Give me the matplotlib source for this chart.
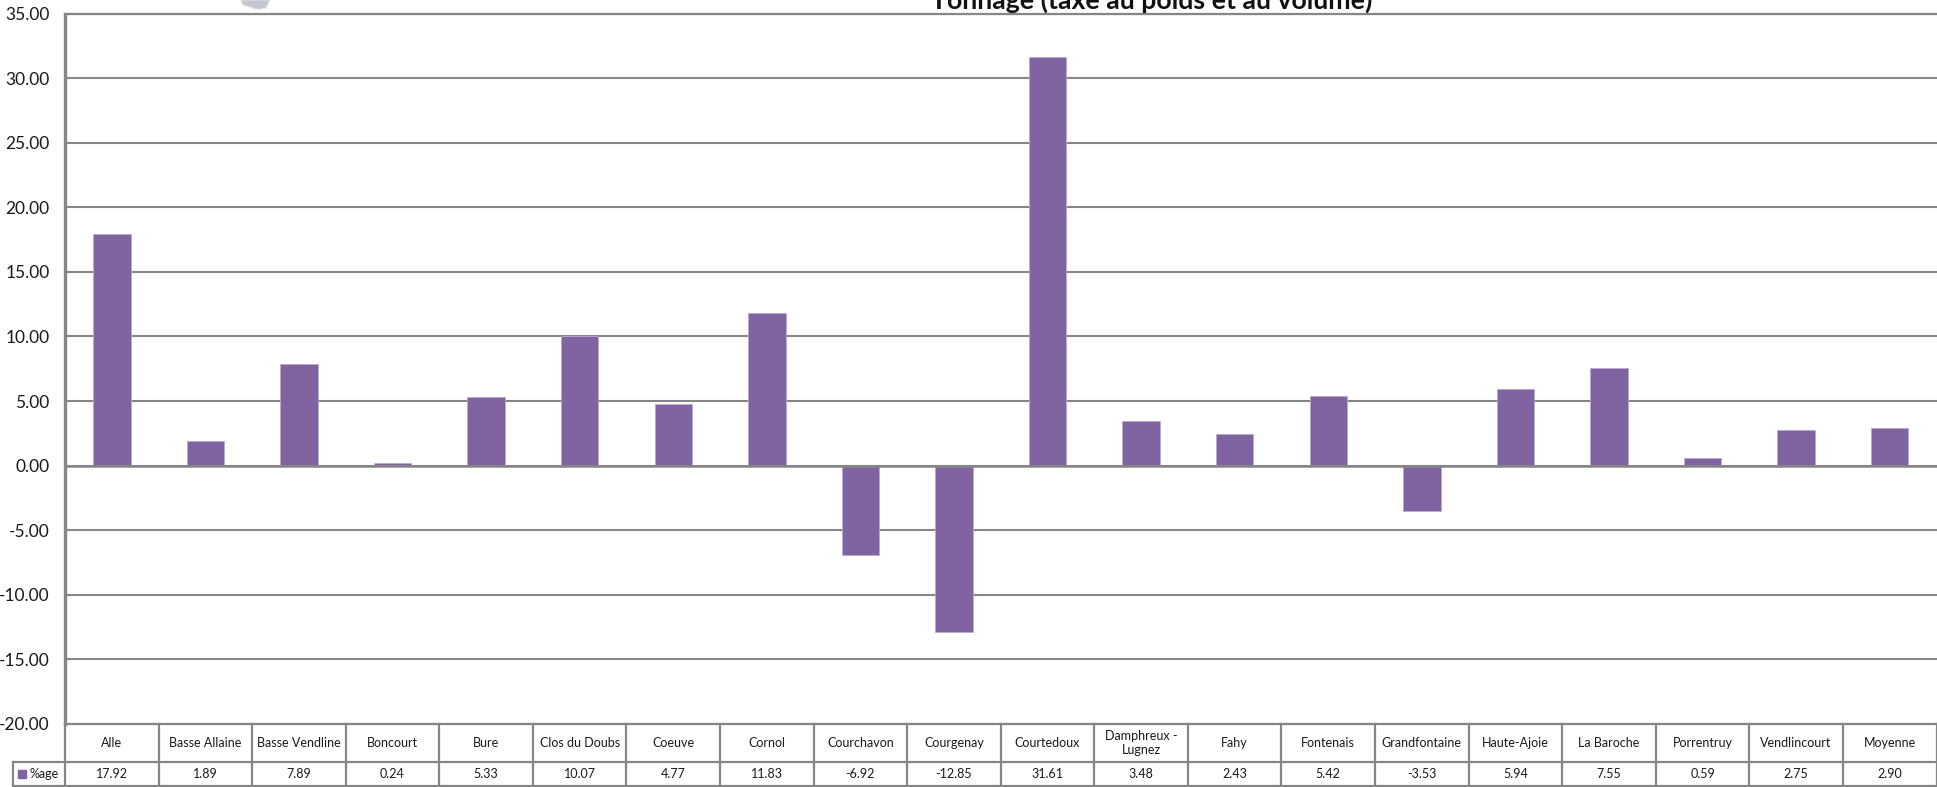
#!/usr/bin/env python3
import matplotlib
matplotlib.use("Agg")
import matplotlib.pyplot as plt
from matplotlib.patches import Polygon, Rectangle

communes = ["Alle", "Basse Allaine", "Basse Vendline", "Boncourt", "Bure", "Clos du Doubs",
            "Coeuve", "Cornol", "Courchavon", "Courgenay", "Courtedoux", "Damphreux -\nLugnez",
            "Fahy", "Fontenais", "Grandfontaine", "Haute-Ajoie", "La Baroche", "Porrentruy",
            "Vendlincourt", "Moyenne"]
pourcentages = [17.92, 1.89, 7.89, 0.24, 5.33, 10.07, 4.77, 11.83, -6.92, -12.85, 31.61, 3.48,
                2.43, 5.42, -3.53, 5.94, 7.55, 0.59, 2.75, 2.90]
serie = "%age"
titre = "Tonnage (taxe au poids et au volume)"

W, H = 1937, 787
GREY = "#868686"
PURPLE = "#8064A2"
TEXT = "#1a1a1a"

plt.rcParams["font.family"] = ["Lato", "DejaVu Sans"]


def fx(px):
    return px / W


def fy(py):
    return 1 - py / H


fig = plt.figure(figsize=(W / 100, H / 100), dpi=100, facecolor="white")
ax = fig.add_axes([fx(65), fy(724), fx(1936.5) - fx(65), fy(13.5) - fy(724)])

x = [i + 0.5 for i in range(len(communes))]
ax.bar(x, pourcentages, width=0.4, color=PURPLE, edgecolor="#b9a9cf", linewidth=0.6, zorder=3)

ax.set_xlim(0, len(communes))
ax.set_ylim(-20, 35)
ax.set_yticks(range(-20, 40, 5))
ax.set_yticklabels([f"{v:.2f}" for v in range(-20, 40, 5)], fontsize=12.5, color=TEXT)
ax.tick_params(axis="y", length=0, pad=11)
ax.tick_params(axis="x", length=0, labelbottom=False)
ax.grid(True, axis="y", color=GREY, linewidth=1.5, zorder=1)
ax.set_axisbelow(True)

ax.spines["right"].set_visible(False)
for side, lw in (("top", 1.6), ("left", 2.4), ("bottom", 1.6)):
    ax.spines[side].set_color(GREY)
    ax.spines[side].set_linewidth(lw)

# ligne du zero
ax.axhline(0, color=GREY, linewidth=1.8, zorder=4)

# tableau de donnees sous le graphique
trans = ax.get_xaxis_transform()


def to_axes_y(py):
    return ax.transAxes.inverted().transform((0, H - py))[1]


y_head = to_axes_y(743)
y_val = to_axes_y(774)
y_mid = to_axes_y(762)
y_bot = to_axes_y(786)
x_leg = -52 / 93.6

for i in range(len(communes) + 1):
    ax.plot([i, i], [0, y_bot], transform=trans, color=GREY, linewidth=1.6, clip_on=False, zorder=5)
for yy in (y_mid, y_bot):
    ax.plot([x_leg, len(communes)], [yy, yy], transform=trans, color=GREY, linewidth=1.6,
            clip_on=False, zorder=5)
ax.plot([x_leg, x_leg], [y_mid, y_bot], transform=trans, color=GREY, linewidth=1.6, clip_on=False)

for xi, nom, val in zip(x, communes, pourcentages):
    ax.text(xi, y_head, nom, transform=trans, ha="center", va="center", fontsize=9.0, color=TEXT,
            linespacing=1.2, clip_on=False)
    ax.text(xi, y_val, f"{val:.2f}", transform=trans, ha="center", va="center", fontsize=9.0,
            color=TEXT, clip_on=False)

fig.add_artist(Rectangle((fx(18), fy(778)), 8 / W, 8 / H, transform=fig.transFigure, color=PURPLE))
fig.text(fx(29), fy(774), serie, ha="left", va="center", fontsize=9.0, color=TEXT)

# titre coupe par le haut de l'image
fig.text(fx(1152), fy(8.5), titre, ha="center", va="baseline", fontsize=19.2, fontweight="bold", color="#111111")

# petite image grise coupee en haut a gauche
fig.add_artist(Polygon([(fx(241), fy(0)), (fx(270), fy(0)), (fx(266), fy(8)), (fx(258), fy(9.5)),
                        (fx(243), fy(5))], closed=True, transform=fig.transFigure,
                       facecolor="#c4c6d0", edgecolor="#e2e3e8", linewidth=0.8))

fig.savefig("out.png", dpi=100)
